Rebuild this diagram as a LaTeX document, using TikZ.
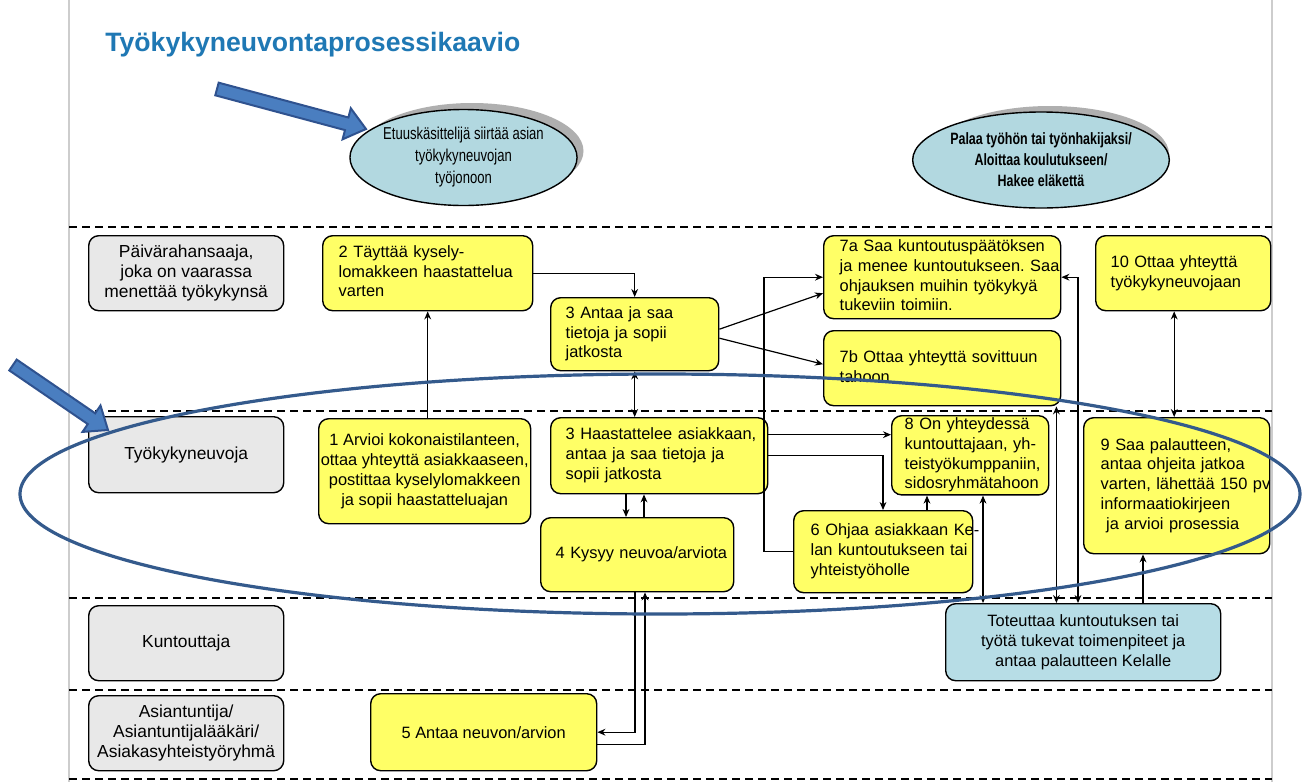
\documentclass[tikz,border=0pt]{standalone}
\usepackage{fontspec}
\setmainfont{Liberation Sans}
\newfontfamily\narrowfont[FakeStretch=0.76]{Liberation Sans}
\usetikzlibrary{calc,arrows.meta,shapes.geometric}
\definecolor{boxyellow}{RGB}{255,255,102}
\definecolor{rolegray}{RGB}{232,232,232}
\definecolor{ellcyan}{RGB}{178,216,224}
\definecolor{boxcyan}{RGB}{183,221,230}
\definecolor{titleblue}{RGB}{31,120,180}
\definecolor{markblue}{RGB}{52,90,140}
\definecolor{arrowfill}{RGB}{74,126,192}
\definecolor{arrowline}{RGB}{47,82,143}
\definecolor{framegray}{RGB}{205,205,205}
\definecolor{shadowgray}{RGB}{175,175,175}
\newcommand{\lefttab}[1]{\noindent\begin{tabular}{@{}l@{}}#1\end{tabular}}
\frenchspacing
\begin{document}
\begin{tikzpicture}[x=0.5pt,y=-0.5pt,
  >={Stealth[length=4pt,width=3.4pt]},
  conn/.style={line width=0.6pt},
  lane/.style={line width=0.8pt, dash pattern=on 4pt off 2.5pt},
  slideframe/.style={draw=framegray, line width=1pt},
  basebox/.style={draw=black, line width=0.7pt, rounded corners=5pt, anchor=north west, inner ysep=0pt, font=\fontsize{8.2}{9.9}\selectfont},
  ybox/.style={basebox, fill=boxyellow},
  lbox/.style={ybox, align=left},
  cbox/.style={ybox, align=center, inner xsep=1pt},
  rolebox/.style={basebox, fill=rolegray, align=center, minimum width=97.5pt, minimum height=37.5pt, inner xsep=1pt, font=\fontsize{8.7}{9.9}\selectfont},
  ovalnode/.style={ellipse, draw=black, line width=0.7pt, fill=ellcyan, inner sep=0pt, align=center},
  blockarrow/.style={fill=arrowfill, draw=arrowline, line width=1pt, line join=miter}
]
\fill[white] (0,0) rectangle (1302,782);
\useasboundingbox (0,0) rectangle (1302,782);

% slide frame and swimlane separators
\draw[slideframe] (69,0) -- (69,782);
\draw[slideframe] (1272,0) -- (1272,782);
\foreach \yy in {227,411,598,690,779} \draw[lane] (69,\yy) -- (1272,\yy);

% title
\node[anchor=west, inner sep=0pt, text=titleblue, font=\bfseries\fontsize{13.3}{16}\selectfont] (title) at (105,45) {Työkykyneuvontaprosessikaavio};

% ellipses with shadows
\fill[shadowgray] (472,151) ellipse [x radius=55.75pt, y radius=24pt];
\node[ovalnode, minimum width=111.5pt, minimum height=48pt, font=\narrowfont\fontsize{8.6}{11}\selectfont] (e1) at (463.5,157.5) {Etuuskäsittelijä siirtää asian\\työkykyneuvojan\\työjonoon};
\fill[shadowgray] (1050,154) ellipse [x radius=59.5pt, y radius=24pt];
\node[ovalnode, minimum width=119pt, minimum height=48pt, font=\narrowfont\bfseries\fontsize{8.2}{10.5}\selectfont] (e2) at (1041,160) {Palaa työhön tai työnhakijaksi/\\Aloittaa koulutukseen/\\Hakee eläkettä};

% role boxes
\node[rolebox] (r1) at (88,235) {Päivärahansaaja,\\joka on vaarassa\\menettää työkykynsä};
\node[rolebox, minimum height=38pt] (r2) at (88,416) {Työkykyneuvoja};
\node[rolebox] (r3) at (88,605) {Kuntouttaja};
\node[rolebox] (r4) at (88,695) {Asiantuntija/\\Asiantuntijalääkäri/\\Asiakasyhteistyöryhmä};

% process boxes
\node[lbox, text width=89pt, inner xsep=8pt, minimum height=37.5pt] (b2) at (322,235) {\lefttab{2 Täyttää kysely-\\lomakkeen haastattelua\\varten}};
\node[lbox, text width=69pt, inner xsep=7.5pt, minimum height=36.5pt] (b3a) at (550,297) {\lefttab{3 Antaa ja saa\\tietoja ja sopii\\jatkosta}};
\node[lbox, text width=102.5pt, inner xsep=8pt, minimum height=41.5pt] (n7a) at (823,235) {\lefttab{7a Saa kuntoutuspäätöksen\\ja menee kuntoutukseen. Saa\\ohjauksen muihin työkykyä\\tukeviin toimiin.}};
\node[lbox, text width=102.5pt, inner xsep=8pt, minimum height=37.5pt] (n7b) at (823,330) {\lefttab{7b Ottaa yhteyttä sovittuun\\tahoon}};
\node[lbox, text width=72.5pt, inner xsep=7.5pt, minimum height=37.5pt] (n10) at (1095,235) {\lefttab{10 Ottaa yhteyttä\\työkykyneuvojaan}};
\node[cbox, minimum width=106pt, minimum height=52.5pt] (b1) at (318,418) {1 Arvioi kokonaistilanteen,\\ottaa yhteyttä asiakkaaseen,\\postittaa kyselylomakkeen\\ja sopii haastatteluajan};
\node[lbox, text width=93.5pt, inner xsep=7.5pt, minimum height=38pt] (b3b) at (550,417) {\lefttab{3 Haastattelee asiakkaan,\\antaa ja saa tietoja ja\\sopii jatkosta}};
\node[lbox, text width=81.5pt, inner xsep=7.5pt, minimum height=37pt] (b4) at (540,517) {\lefttab{4 Kysyy neuvoa/arviota}};
\node[lbox, text width=65.5pt, inner xsep=6.5pt, minimum height=37.5pt] (n8) at (891,415) {\lefttab{8 On yhteydessä\\kuntouttajaan, yh-\\teistyökumppaniin,\\sidosryhmätahoon}};
\node[lbox, text width=72.5pt, inner xsep=8.5pt, minimum height=41pt] (n6) at (793,510) {\lefttab{6 Ohjaa asiakkaan Ke-\\lan kuntoutukseen tai\\yhteistyöholle}};
\node[lbox, text width=76pt, inner xsep=8.5pt, minimum height=68pt] (n9) at (1083,417) {\lefttab{9 Saa palautteen,\\antaa ohjeita jatkoa\\varten, lähettää 150 pv\\informaatiokirjeen\\ \ ja arvioi prosessia}};
\node[cbox, minimum width=113pt, minimum height=38.5pt] (b5) at (370,693) {5 Antaa neuvon/arvion};
\node[basebox, fill=boxcyan, align=center, inner xsep=1pt, minimum width=137.5pt, minimum height=38.5pt] (cy) at (945,603) {Toteuttaa kuntoutuksen tai\\työtä tukevat toimenpiteet ja\\antaa palautteen Kelalle};

% helper coordinates for connectors
\coordinate (p12) at ($(b1.north)+(3,0)$);
\coordinate (p3a7a) at ($(b3a.east)+(0,-5)$);
\coordinate (p3a7b) at ($(b3a.east)+(0,4)$);
\coordinate (p38) at ($(b3b.east)+(0,-21)$);
\coordinate (p36) at ($(n6.north west)+(90,0)$);
\coordinate (p68) at ($(n6.north west)+(134,0)$);
\coordinate (p8c) at ($(n8.south west)+(92,0)$);
\coordinate (p7c) at ($(n7b.south east)+(-5,0)$);
\coordinate (pc7) at ($(cy.north west)+(133,0)$);
\coordinate (p109) at ($(n10.south)+(-9,0)$);
\coordinate (pc9) at ($(cy.north west)+(198,0)$);
\coordinate (p34) at ($(b3b.south west)+(76,0)$);
\coordinate (p43) at ($(b3b.south west)+(94,0)$);
\coordinate (p45) at ($(b4.south west)+(95,0)$);
\coordinate (p54) at ($(b4.south west)+(105,0)$);
\coordinate (p5out) at ($(b5.east)+(0,12)$);

% connectors
\draw[conn,->] (p12) -- (p12 |- b2.south);
\draw[conn,->] (b2.east) -| (b3a.north);
\draw[conn,<->] (b3a.south) -- (b3a.south |- b3b.north);
\draw[conn,->] (p3a7a) -- ($(n7a.west)+(0,16)$);
\draw[conn,->] (p3a7b) -- ($(n7b.west)+(0,-4)$);
\draw[conn,->] (n6.west) -- ++(-29,0) |- (n7a.west);
\draw[conn,->] (p38) -- (p38 -| n8.west);
\draw[conn,->] (b3b.east) -| (p36);
\draw[conn,->] (p68) -- (p68 |- n8.south);
\draw[conn,<->] (p8c) -- (p8c |- cy.north);
\draw[conn,<->] (p7c) -- (p7c |- cy.north);
\draw[conn,<->] (pc7) |- (n7a.east);
\draw[conn,<->] (p109) -- (p109 |- n9.north);
\draw[conn,->] (pc9) -- (pc9 |- n9.south);
\draw[conn,->] (p34) -- (p34 |- b4.north);
\draw[conn,->] (p43 |- b4.north) -- (p43);
\draw[conn,->] (p45) |- (b5.east);
\draw[conn,->] (p5out) -| (p54);

% annotation ellipse and block arrows
\draw[markblue, line width=1.6pt] (660,494) ellipse [x radius=320pt, y radius=60pt];
\filldraw[blockarrow] (218.7,82.7) -- (348.4,117.5) -- (350.8,108.3) -- (366,129) -- (342.6,139.3) -- (345.0,130.1) -- (215.3,95.3) -- cycle;
\filldraw[blockarrow] (16.7,359.6) -- (95.2,413.3) -- (100.5,405.5) -- (108,430) -- (82.5,431.9) -- (87.8,424.1) -- (9.3,370.4) -- cycle;
\end{tikzpicture}
\end{document}
